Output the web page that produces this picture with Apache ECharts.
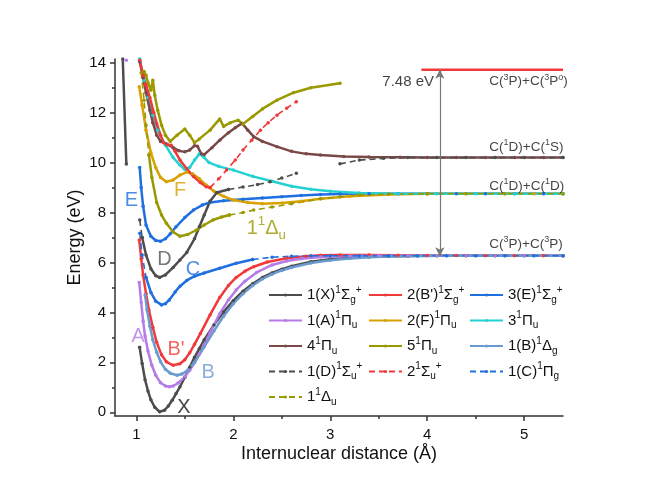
<!DOCTYPE html>
<html><head><meta charset="utf-8">
<script src="https://cdn.jsdelivr.net/npm/echarts@6/dist/echarts.min.js"></script>
<style>html,body{margin:0;padding:0;background:#fff}#c{width:654px;height:500px}</style>
</head><body><div id="c"></div>
<script>
// ---------------- data (Å, eV) ----------------
const xTicks = [1, 2, 3, 4, 5];
const yTicks = [0, 2, 4, 6, 8, 10, 12, 14];

const X_Sg = [[0.86,14.15],[0.897,9.94],['-','-'],[1.034,2.6],[1.06,1.95],[1.09,1.3],[1.12,0.85],[1.15,0.5],[1.19,0.2],[1.24,0.02],[1.29,0.08],[1.33,0.25],[1.37,0.48],[1.41,0.75],[1.45,1.02],[1.5,1.4],[1.55,1.8],[1.6,2.2],[1.65,2.55],[1.7,2.9],[1.8,3.5],[1.9,4.02],[2.0,4.47],[2.1,4.85],[2.2,5.15],[2.3,5.4],[2.4,5.58],[2.5,5.73],[2.6,5.85],[2.8,6.03],[3.0,6.13],[3.2,6.19],[3.4,6.23],[3.6,6.25],[3.8,6.26],[4.1,6.27],[4.4,6.27],[4.7,6.27],[5.0,6.27],[5.4,6.27]];
const Bp_Sg = [[1.03,6.9],[1.05,6.15],[1.07,5.5],[1.1,4.75],[1.13,4.1],[1.17,3.4],[1.21,2.8],[1.26,2.3],[1.31,2.02],[1.38,1.88],[1.45,1.94],[1.5,2.1],[1.55,2.38],[1.6,2.72],[1.66,3.15],[1.76,3.9],[1.86,4.6],[1.95,5.08],[2.03,5.4],[2.12,5.65],[2.21,5.83],[2.35,6.02],[2.55,6.17],[2.75,6.25],[2.9,6.29],[3.1,6.3],[3.4,6.3],[3.7,6.29],[4.0,6.28],[4.3,6.28],[4.6,6.27],[4.9,6.27],[5.2,6.27],[5.4,6.27]];
const E_Sg = [[1.035,9.8],[1.05,9.0],[1.07,8.25],[1.1,7.5],[1.15,7.05],[1.2,6.88],[1.25,6.85],[1.3,6.95],[1.35,7.15],[1.41,7.43],[1.5,7.8],[1.59,8.1],[1.68,8.3],[1.76,8.4],[1.9,8.47],[2.1,8.53],[2.3,8.58],[2.5,8.63],[2.7,8.68],[2.9,8.72],[3.1,8.74],[3.4,8.75],[3.7,8.75],[4.0,8.75],[4.3,8.75],[4.6,8.75],[4.9,8.75],[5.2,8.75],[5.4,8.75]];
const A_Pu = [[0.897,14.1],['-','-'],[1.03,5.2],[1.05,4.4],[1.07,3.65],[1.09,3.05],[1.12,2.45],[1.16,1.88],[1.2,1.48],[1.25,1.18],[1.3,1.05],[1.34,1.02],[1.38,1.05],[1.43,1.17],[1.5,1.42],[1.55,1.68],[1.6,1.98],[1.65,2.32],[1.7,2.7],[1.76,3.18],[1.86,3.95],[1.95,4.5],[2.03,4.9],[2.12,5.25],[2.24,5.6],[2.4,5.9],[2.55,6.06],[2.7,6.15],[2.9,6.22],[3.2,6.26],[3.5,6.27],[3.8,6.27],[4.1,6.27],[4.4,6.27],[4.7,6.27],[5.0,6.27],[5.4,6.27]];
const F_Pu = [[1.03,13.04],[1.06,12.3],[1.1,11.3],[1.15,10.4],[1.2,9.8],[1.25,9.4],[1.31,9.23],[1.38,9.3],[1.45,9.5],[1.52,9.62],[1.58,9.55],[1.65,9.35],[1.72,9.1],[1.8,8.85],[1.9,8.65],[2.0,8.5],[2.15,8.4],[2.3,8.35],[2.5,8.38],[2.7,8.45],[2.9,8.55],[3.2,8.65],[3.6,8.72],[4.0,8.75],[4.4,8.75],[4.8,8.75],[5.1,8.75],[5.4,8.75]];
const Pu3 = [[1.035,14.15],[1.08,13.3],[1.12,12.6],[1.17,11.9],[1.22,11.3],[1.3,10.7],[1.38,10.2],[1.45,9.9],[1.5,9.72],[1.55,9.8],[1.6,10.1],[1.65,10.35],[1.7,10.2],[1.75,10.0],[1.85,9.85],[2.0,9.7],[2.2,9.45],[2.4,9.25],[2.6,9.05],[2.8,8.93],[3.0,8.85],[3.3,8.78],[3.7,8.75],[4.1,8.75],[4.5,8.75],[4.9,8.75],[5.4,8.75]];
const Pu4 = [[1.035,14.04],[1.07,13.4],[1.1,12.8],[1.14,12.1],[1.17,11.6],[1.21,11.1],[1.25,10.85],[1.31,10.75],[1.38,10.6],[1.44,10.47],[1.5,10.43],[1.55,10.5],[1.6,10.68],[1.63,10.66],[1.67,10.35],[1.7,10.32],[1.78,10.6],[1.86,10.9],[1.95,11.2],[2.02,11.4],[2.09,11.57],[2.15,11.3],[2.21,11.04],[2.3,10.85],[2.45,10.64],[2.6,10.45],[2.75,10.35],[2.9,10.3],[3.14,10.24],[3.4,10.22],[3.72,10.21],[4.0,10.2],[4.3,10.2],[4.6,10.2],[4.9,10.2],[5.2,10.2],[5.4,10.2]];
const Pu5 = [[1.08,13.65],[1.1,13.5],[1.12,13.2],[1.15,12.9],[1.17,13.3],[1.19,12.7],[1.22,12.1],[1.26,11.5],[1.3,11.1],[1.35,10.85],[1.42,11.1],[1.5,11.35],[1.55,11.1],[1.6,10.8],[1.65,10.95],[1.76,11.3],[1.86,11.75],[1.9,11.45],[1.97,11.6],[2.05,11.7],[2.1,11.55],[2.2,11.85],[2.3,12.15],[2.45,12.5],[2.62,12.8],[2.8,13.0],[3.1,13.18]];
const B_Dg = [[1.09,4.7],[1.11,4.1],[1.14,3.45],[1.17,2.9],[1.21,2.4],[1.25,2.02],[1.3,1.72],[1.35,1.56],[1.42,1.48],[1.47,1.53],[1.53,1.68],[1.6,2.0],[1.7,2.62],[1.8,3.25],[1.9,3.85],[2.0,4.35],[2.1,4.75],[2.2,5.08],[2.3,5.34],[2.4,5.53],[2.5,5.68],[2.6,5.8],[2.8,5.98],[3.0,6.09],[3.2,6.16],[3.4,6.21],[3.6,6.24],[3.9,6.26],[4.2,6.27],[4.5,6.27],[4.8,6.27],[5.1,6.27],[5.4,6.27]];
// dashed states: dense (solid-looking) core + sparse dashed tail
const D_Su_core = [[1.06,7.0],[1.1,6.3],[1.15,5.75],[1.2,5.47],[1.24,5.4],[1.3,5.5],[1.38,5.8],[1.45,6.1],[1.52,6.4],[1.6,6.95],[1.65,7.43],[1.7,7.9],[1.76,8.45],[1.83,8.8],[1.95,8.92]];
const D_Su_tail = [[1.035,7.7],[1.06,7.0],['-','-'],[1.95,8.92],[2.1,9.02],[2.25,9.12],[2.38,9.23],[2.5,9.38],[2.65,9.57],['-','-'],[3.1,9.95],[3.3,10.1],[3.55,10.17],[3.8,10.2],[4.1,10.2],[4.4,10.2],[4.7,10.2],[5.0,10.2],[5.4,10.2]];
const Su2_core = [[1.035,14.1],[1.07,13.5],[1.1,13.1],[1.14,12.6],[1.18,12.0],[1.21,11.57],[1.25,11.1],[1.28,10.8],[1.32,10.72],[1.36,10.7],[1.4,10.45],[1.45,10.1],[1.52,9.75],[1.59,9.44],[1.66,9.2],[1.72,9.03],[1.76,9.0]];
const Su2_tail = [[1.76,9.0],[1.85,9.35],[1.93,9.7],[2.02,10.1],[2.1,10.5],[2.19,10.9],[2.28,11.3],[2.36,11.6],[2.45,11.9],[2.55,12.18],[2.65,12.44]];
const C_Pg_core = [[1.1,5.4],[1.15,4.8],[1.2,4.45],[1.26,4.3],[1.3,4.35],[1.34,4.5],[1.4,4.82],[1.45,5.05],[1.52,5.28],[1.6,5.45],[1.7,5.58],[1.86,5.77],[2.03,5.97],[2.2,6.12]];
const C_Pg_tail = [[1.035,7.17],[1.06,6.3],[1.1,5.4],['-','-'],[2.2,6.12],[2.4,6.21],[2.6,6.25],[2.8,6.27],[3.0,6.27],[3.3,6.27],[3.6,6.27],[3.9,6.27],[4.2,6.27],[4.5,6.27],[4.8,6.27],[5.1,6.27],[5.4,6.27]];
const Du_core = [[1.13,10.3],[1.16,9.4],[1.21,8.4],[1.26,7.9],[1.31,7.57],[1.38,7.22],[1.45,7.05],[1.53,7.12],[1.62,7.3],[1.7,7.5],[1.79,7.7],[1.88,7.82],[1.96,7.9]];
const Du_tail = [[1.05,13.6],[1.08,12.5],[1.1,11.5],[1.13,10.3],['-','-'],[1.96,7.9],[2.1,8.0],[2.21,8.1],[2.4,8.22],[2.6,8.35],[2.9,8.55],[3.1,8.63],[3.3,8.7],[3.6,8.74],[4.0,8.75],[4.4,8.75],[4.8,8.75],[5.4,8.75]];
// C(3P)+C(3Po) asymptote and the 7.48 eV gap
const asym3Po = [[3.94,13.72],[5.4,13.72]];
const gapArrow = [[4.13,6.25],[4.13,13.72]];

// ---------------- text ----------------
const curveLabels = [
  {text:'X', x:1.49, y:0.2, color:'#111111'},
  {text:'A', x:1.02, y:3.05, color:'#b57be6'},
  {text:"B'", x:1.41, y:2.5, color:'#f03a3a'},
  {text:'B', x:1.74, y:1.6, color:'#6a9bd0'},
  {text:'C', x:1.585, y:5.7, color:'#1f6fe0'},
  {text:'D', x:1.29, y:6.1, color:'#555555'},
  {text:'E', x:0.95, y:8.5, color:'#1f6fe0'},
  {text:'F', x:1.45, y:8.9, color:'#d7a100'},
  {text:'1¹Δu', x:2.34, y:7.37, color:'#999900'}
];
const limitLabels = [
  {text:'C(³P)+C(³P°)', x:4.64, y:13.24},
  {text:'C(¹D)+C(¹S)', x:4.64, y:10.62},
  {text:'C(¹D)+C(¹D)', x:4.64, y:9.06},
  {text:'C(³P)+C(³P)', x:4.64, y:6.74}
];
const gapLabel = {text:'7.48 eV', x:4.07, y:13.23};

const richMarkup = {
  '1(X)¹Σg⁺':"{t|1(X)}{p|1}{t|Σ}{b|g}{p|+}",
  "2(B')¹Σg⁺":"{t|2(B')}{p|1}{t|Σ}{b|g}{p|+}",
  '3(E)¹Σg⁺':"{t|3(E)}{p|1}{t|Σ}{b|g}{p|+}",
  '1(A)¹Πu':"{t|1(A)}{p|1}{t|Π}{b|u}",
  '2(F)¹Πu':"{t|2(F)}{p|1}{t|Π}{b|u}",
  '3¹Πu':"{t|3}{p|1}{t|Π}{b|u}",
  '4¹Πu':"{t|4}{p|1}{t|Π}{b|u}",
  '5¹Πu':"{t|5}{p|1}{t|Π}{b|u}",
  '1(B)¹Δg':"{t|1(B)}{p|1}{t|Δ}{b|g}",
  '1(D)¹Σu⁺':"{t|1(D)}{p|1}{t|Σ}{b|u}{p|+}",
  '2¹Σu⁺':"{t|2}{p|1}{t|Σ}{b|u}{p|+}",
  '1(C)¹Πg':"{t|1(C)}{p|1}{t|Π}{b|g}",
  '1¹Δu':"{t|1}{p|1}{t|Δ}{b|u}",
  'C(³P)+C(³P°)':"{t|C(}{p|3}{t|P)+C(}{p|3}{t|P}{p|o}{t|)}",
  'C(¹D)+C(¹S)':"{t|C(}{p|1}{t|D)+C(}{p|1}{t|S)}",
  'C(¹D)+C(¹D)':"{t|C(}{p|1}{t|D)+C(}{p|1}{t|D)}",
  'C(³P)+C(³P)':"{t|C(}{p|3}{t|P)+C(}{p|3}{t|P)}"
};

// ---------------- build ----------------
const FF = '"Liberation Sans", Arial, sans-serif';
const COL = {gray:'#4d4d4d', red:'#f03a3a', blue:'#1f6fe0', purple:'#b57be6', gold:'#d7a100',
             cyan:'#25d0d0', brown:'#7b4848', olive:'#999900', steel:'#6a9bd0'};

const states = [
  {name:'1(X)¹Σg⁺', color:COL.gray, parts:[[X_Sg,false]]},
  {name:"2(B')¹Σg⁺", color:COL.red, parts:[[Bp_Sg,false]]},
  {name:'3(E)¹Σg⁺', color:COL.blue, parts:[[E_Sg,false]]},
  {name:'1(A)¹Πu', color:COL.purple, parts:[[A_Pu,false]]},
  {name:'2(F)¹Πu', color:COL.gold, parts:[[F_Pu,false]]},
  {name:'3¹Πu', color:COL.cyan, parts:[[Pu3,false]]},
  {name:'4¹Πu', color:COL.brown, parts:[[Pu4,false]]},
  {name:'5¹Πu', color:COL.olive, parts:[[Pu5,false]]},
  {name:'1(B)¹Δg', color:COL.steel, parts:[[B_Dg,false]]},
  {name:'1(D)¹Σu⁺', color:COL.gray, parts:[[D_Su_tail,true],[D_Su_core,false]]},
  {name:'2¹Σu⁺', color:COL.red, parts:[[Su2_tail,true],[Su2_core,false]]},
  {name:'1(C)¹Πg', color:COL.blue, parts:[[C_Pg_tail,true],[C_Pg_core,false]]},
  {name:'1¹Δu', color:COL.olive, parts:[[Du_tail,true],[Du_core,false]]}
];

const series = [];
states.forEach(s => {
  s.parts.forEach(([data, dashed]) => {
    series.push({
      type:'line', name:s.name, data, symbol:'circle', symbolSize:3.5, showSymbol:true,
      connectNulls:false, clip:true, animation:false, silent:true,
      lineStyle:{color:s.color, width: dashed ? 1.6 : 2.5, type: dashed ? [6,4] : 'solid'},
      itemStyle:{color:s.color}, emphasis:{disabled:true}
    });
  });
});

series.push({
  type:'line', name:'asym', data:asym3Po, symbol:'none', animation:false, silent:true,
  lineStyle:{color:COL.red, width:2.5}, z:3,
  markLine:{silent:true, symbol:['arrow','arrow'], symbolSize:[7,9], animation:false,
    lineStyle:{color:'#777', width:1.2, type:'solid'}, label:{show:false},
    data:[[{coord:gapArrow[0]},{coord:gapArrow[1]}]]}
});

const rich = {
  t:{fontSize:15, fontFamily:FF, lineHeight:20},
  p:{fontSize:10, fontFamily:FF, verticalAlign:'top', lineHeight:12},
  b:{fontSize:10, fontFamily:FF, verticalAlign:'bottom', lineHeight:9}
};
function scaled(r, k){
  const o = {};
  for (const key in r) o[key] = Object.assign({}, r[key], {fontSize:r[key].fontSize*k, lineHeight:r[key].lineHeight*k});
  return o;
}
const richBig = scaled(rich, 1.33);
const richSmall = scaled(rich, 0.9);

series.push({
  type:'scatter', name:'curveLabels', symbolSize:0, silent:true, animation:false, z:10,
  data: curveLabels.map(l => ({value:[l.x,l.y], name:l.text, label:{color:l.color}})),
  label:{show:true, position:'inside', fontSize:20, fontFamily:FF,
    formatter: p => richMarkup[p.name] || ('{t|' + p.name + '}'),
    rich: richBig}
});
series.push({
  type:'scatter', name:'limitLabels', symbolSize:0, silent:true, animation:false, z:10,
  data: limitLabels.map(l => ({value:[l.x,l.y], name:l.text})),
  label:{show:true, position:'inside', align:'left', color:'#111', fontFamily:FF,
    formatter: p => richMarkup[p.name], rich: richSmall}
});
series.push({
  type:'scatter', name:'gapLabel', symbolSize:0, silent:true, animation:false, z:10,
  data: [{value:[gapLabel.x, gapLabel.y], name:gapLabel.text}],
  label:{show:true, position:'inside', align:'right', color:'#111', fontFamily:FF, fontSize:15,
    formatter: p => p.name}
});

const legendCols = [
  ['1(X)¹Σg⁺','1(A)¹Πu','4¹Πu','1(D)¹Σu⁺','1¹Δu'],
  ["2(B')¹Σg⁺",'2(F)¹Πu','5¹Πu','2¹Σu⁺'],
  ['3(E)¹Σg⁺','3¹Πu','1(B)¹Δg','1(C)¹Πg']
];
const legendLeft = [268, 368, 469];

const axisCommon = {
  type:'value', splitLine:{show:false},
  axisLine:{show:true, onZero:false, lineStyle:{color:'#333', width:1.5}},
  axisTick:{show:true, length:5, lineStyle:{color:'#333', width:1.5}},
  minorTick:{show:true, splitNumber:2, length:3, lineStyle:{color:'#333', width:1.5}},
  nameLocation:'middle', nameMoveOverlap:false,
  nameTextStyle:{fontSize:18, fontFamily:FF, color:'#111'}
};

const option = {
  backgroundColor:'#fff',
  animation:false,
  grid:{left:115, right:91, top:59, bottom:84, containLabel:false},
  xAxis: Object.assign({}, axisCommon, {
    min:0.78, max:5.4, name:'Internuclear distance (Å)', nameGap:29,
    axisTick:Object.assign({}, axisCommon.axisTick, {customValues:xTicks}),
    axisLabel:{fontSize:15, fontFamily:FF, color:'#111', margin:11, customValues:xTicks}
  }),
  yAxis: Object.assign({}, axisCommon, {
    min:-0.15, max:14.15, splitNumber:7, name:'Energy (eV)', nameGap:31,
    axisTick:Object.assign({}, axisCommon.axisTick, {customValues:yTicks}),
    axisLabel:{fontSize:15, fontFamily:FF, color:'#111', margin:9, customValues:yTicks}
  }),
  legend: legendCols.map((col, i) => ({
    orient:'vertical', left:legendLeft[i], top:285, padding:0, itemGap:5.5,
    itemWidth:33, itemHeight:4, data:col, selectedMode:false,
    formatter: n => richMarkup[n],
    textStyle:{fontSize:15, fontFamily:FF, color:'#111', rich}
  })),
  series
};

const chart = echarts.init(document.getElementById('c'), null, {renderer:'canvas'});
chart.setOption(option);
</script></body></html>
